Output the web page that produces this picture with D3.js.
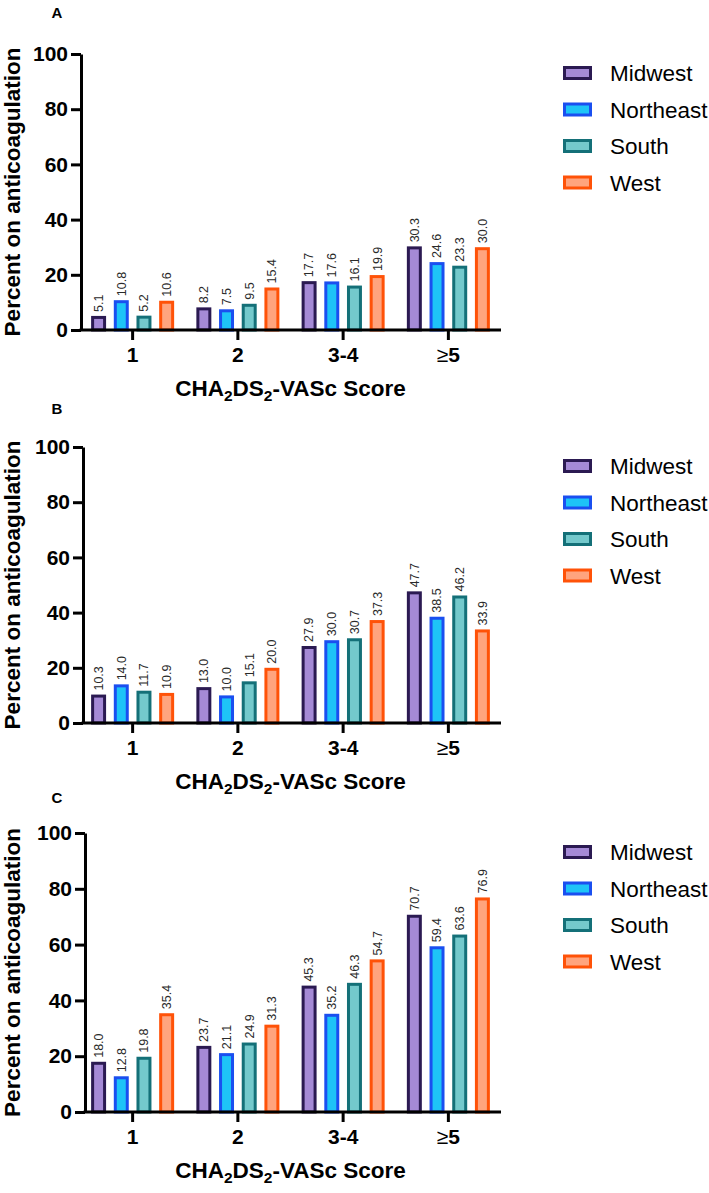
<!DOCTYPE html>
<html>
<head>
<meta charset="utf-8">
<script src="https://cdn.jsdelivr.net/npm/d3@7"></script>
<style>
  html, body { margin: 0; padding: 0; background: #fff; }
  svg { display: block; font-family: "Liberation Sans", Arial, sans-serif; }
</style>
</head>
<body>
<svg id="chart" width="709" height="1193"></svg>
<script>
// ---- data ----
const categories = ["1", "2", "3-4", "≥5"];
const regions = ["Midwest", "Northeast", "South", "West"];
const panelLabels = ["A", "B", "C"];
const yTicks = [0, 20, 40, 60, 80, 100];

const panelA_Midwest   = [5.1, 8.2, 17.7, 30.3];
const panelA_Northeast = [10.8, 7.5, 17.6, 24.6];
const panelA_South     = [5.2, 9.5, 16.1, 23.3];
const panelA_West      = [10.6, 15.4, 19.9, 30.0];

const panelB_Midwest   = [10.3, 13.0, 27.9, 47.7];
const panelB_Northeast = [14.0, 10.0, 30.0, 38.5];
const panelB_South     = [11.7, 15.1, 30.7, 46.2];
const panelB_West      = [10.9, 20.0, 37.3, 33.9];

const panelC_Midwest   = [18.0, 23.7, 45.3, 70.7];
const panelC_Northeast = [12.8, 21.1, 35.2, 59.4];
const panelC_South     = [19.8, 24.9, 46.3, 63.6];
const panelC_West      = [35.4, 31.3, 54.7, 76.9];

const panelSeries = [
  [panelA_Midwest, panelA_Northeast, panelA_South, panelA_West],
  [panelB_Midwest, panelB_Northeast, panelB_South, panelB_West],
  [panelC_Midwest, panelC_Northeast, panelC_South, panelC_West]
];

// ---- styles ----
const strokeColors = ["#2b1a52", "#1a4ff0", "#147078", "#ff5208"];
const fillColors   = ["#a58ad6", "#1ec4f7", "#74c9cc", "#ffa47e"];

// ---- layout ----
const layout = [
  { top: 54,  bottom: 330,  axisX: 81, label: 12 },
  { top: 447, bottom: 723,  axisX: 83, label: 408 },
  { top: 833, bottom: 1112, axisX: 85, label: 797 }
];
const xLeft = 80, xRight = 501;

const svg = d3.select("#chart");

const x = d3.scaleBand().domain(categories).range([xLeft, xRight]).padding(0);
const xi = d3.scaleBand().domain(regions).range([0, x.bandwidth()])
  .paddingInner(0.34).paddingOuter(0.49);

layout.forEach((L, p) => {
  const g = svg.append("g");
  const y = d3.scaleLinear().domain([0, 100]).range([L.bottom, L.top]);

  // panel letter
  g.append("text").attr("x", 57).attr("y", L.label + 6)
    .attr("font-size", 15).attr("font-weight", "bold").attr("text-anchor", "middle")
    .text(panelLabels[p]);

  // bars
  panelSeries[p].forEach((vals, s) => {
    vals.forEach((v, c) => {
      const bx = x(categories[c]) + xi(regions[s]);
      const bw = xi.bandwidth();
      const top = y(v);
      g.append("rect")
        .attr("x", bx + 1.5).attr("y", top + 1.5)
        .attr("width", bw - 3).attr("height", Math.max(0, L.bottom - top - 1.5))
        .attr("fill", fillColors[s]).attr("stroke", strokeColors[s]).attr("stroke-width", 3);
      g.append("text")
        .attr("transform", `translate(${bx + bw / 2},${top - 4}) rotate(-90)`)
        .attr("dy", "0.35em")
        .attr("font-size", 12.5).attr("fill", "#2a2a2a")
        .text(v.toFixed(1));
    });
  });

  // y axis
  const ya = g.append("g").attr("transform", `translate(${L.axisX},0)`)
    .call(d3.axisLeft(y).tickValues(yTicks).tickSize(10).tickSizeOuter(0).tickPadding(3));
  ya.select(".domain").attr("stroke", "#000").attr("stroke-width", 3);
  ya.selectAll(".tick line").attr("stroke", "#000").attr("stroke-width", 3);
  ya.selectAll(".tick text").attr("font-size", 21).attr("font-weight", "bold")
    .attr("fill", "#000").attr("font-family", "Liberation Sans, Arial, sans-serif");

  // x axis
  const xa = g.append("g").attr("transform", `translate(0,${L.bottom})`)
    .call(d3.axisBottom(x).tickSize(10).tickSizeOuter(0).tickPadding(7));
  xa.select(".domain").attr("stroke", "#000").attr("stroke-width", 3)
    .attr("d", `M${L.axisX - 1.5},0H${xRight}`);
  xa.selectAll(".tick line").attr("stroke", "#000").attr("stroke-width", 3);
  xa.selectAll(".tick text").each(function(d) {
    const t = d3.select(this).text("")
      .attr("font-size", 21).attr("fill", "#000")
      .attr("font-family", "Liberation Sans, Arial, sans-serif");
    if (d.startsWith("≥")) {
      t.append("tspan").attr("font-weight", "normal").text("≥");
      t.append("tspan").attr("font-weight", "bold").text(d.slice(1));
    } else {
      t.attr("font-weight", "bold").text(d);
    }
  });

  // x title
  const xt = g.append("text").attr("x", (xLeft + xRight) / 2).attr("y", L.bottom + 66)
    .attr("text-anchor", "middle").attr("font-size", 22.5).attr("font-weight", "bold");
  xt.append("tspan").text("CHA");
  xt.append("tspan").attr("font-size", 15.5).attr("dy", 5).text("2");
  xt.append("tspan").attr("dy", -5).text("DS");
  xt.append("tspan").attr("font-size", 15.5).attr("dy", 5).text("2");
  xt.append("tspan").attr("dy", -5).text("-VASc Score");

  // y title
  g.append("text")
    .attr("transform", `translate(20,${(L.top + L.bottom) / 2}) rotate(-90)`)
    .attr("text-anchor", "middle").attr("font-size", 22.5).attr("font-weight", "bold")
    .text("Percent on anticoagulation");

  // legend
  regions.forEach((r, s) => {
    const cy = L.top + 19 + s * 36.5;
    g.append("rect").attr("x", 564.5).attr("y", cy - 5.5).attr("width", 26).attr("height", 11)
      .attr("fill", fillColors[s]).attr("stroke", strokeColors[s]).attr("stroke-width", 3);
    g.append("text").attr("x", 610).attr("y", cy).attr("dy", "0.36em")
      .attr("font-size", 22.5).attr("fill", "#000").text(r);
  });
});
</script>
</body>
</html>
